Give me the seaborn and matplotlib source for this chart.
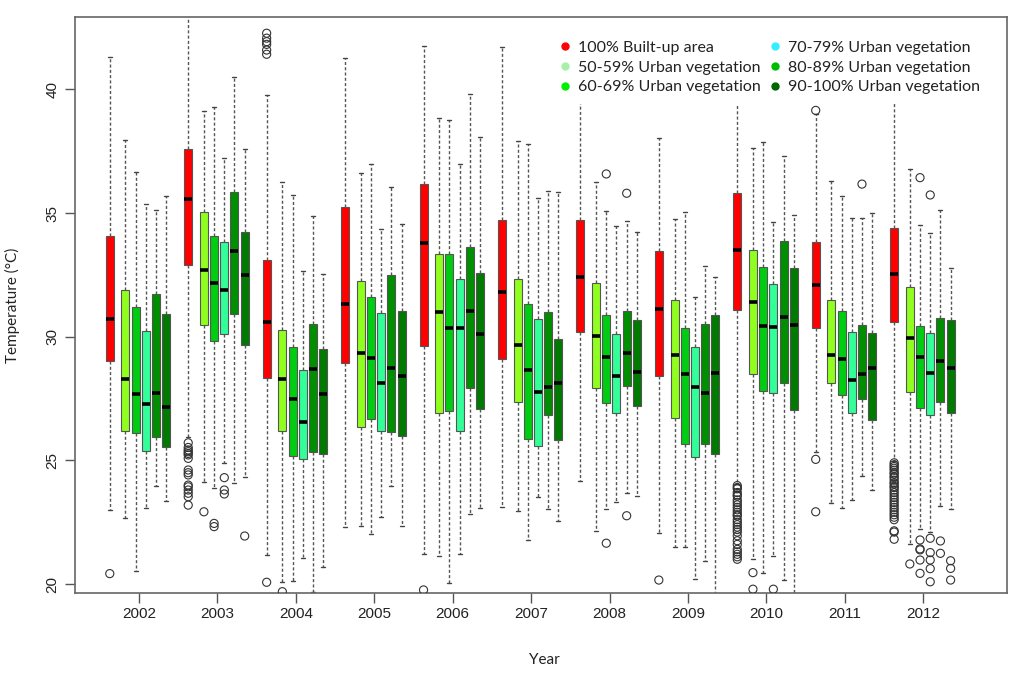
"""
Boxplots of temperature by year and urban vegetation class.
"""

import numpy as np
import pandas as pd
import matplotlib
matplotlib.use("Agg")
import matplotlib.pyplot as plt
from matplotlib.lines import Line2D
import seaborn as sns

YEARS = [2002, 2003, 2004, 2005, 2006, 2007, 2008, 2009, 2010, 2011, 2012]
GROUPS = [
    "100% Built-up area",
    "50-59% Urban vegetation",
    "60-69% Urban vegetation",
    "70-79% Urban vegetation",
    "80-89% Urban vegetation",
    "90-100% Urban vegetation",
]

# (whisker low, Q1, median, Q3, whisker high) per year
built_up = [
    (23.00, 29.02, 30.70, 34.08, 41.31),
    (25.96, 32.90, 35.56, 37.60, 43.30),
    (21.17, 28.33, 30.61, 33.11, 39.77),
    (22.29, 28.95, 31.32, 35.26, 41.28),
    (21.21, 29.64, 33.80, 36.16, 41.75),
    (23.10, 29.08, 31.82, 34.71, 41.70),
    (24.18, 30.18, 32.43, 34.71, 40.60),
    (22.08, 28.41, 31.12, 33.48, 38.02),
    (24.05, 31.08, 33.51, 35.80, 41.00),
    (25.35, 30.36, 32.09, 33.84, 39.00),
    (24.97, 30.61, 32.52, 34.38, 39.90),
]
veg_50_59 = [
    (22.66, 26.19, 28.28, 31.88, 37.94),
    (24.12, 30.49, 32.68, 35.03, 39.14),
    (20.09, 26.17, 28.29, 30.27, 36.27),
    (22.35, 26.34, 29.33, 32.25, 36.61),
    (21.14, 26.93, 31.00, 33.34, 38.83),
    (22.95, 27.35, 29.66, 32.35, 37.93),
    (22.15, 27.94, 30.01, 32.18, 36.26),
    (21.48, 26.70, 29.25, 31.48, 34.76),
    (21.00, 28.48, 31.39, 33.51, 37.62),
    (23.26, 28.14, 29.27, 31.48, 36.30),
    (21.62, 27.78, 29.93, 32.02, 36.77),
]
veg_60_69 = [
    (20.53, 26.12, 27.69, 31.21, 36.67),
    (23.89, 29.83, 32.19, 34.08, 39.29),
    (20.12, 25.18, 27.48, 29.57, 35.73),
    (22.02, 26.66, 29.14, 31.62, 36.98),
    (20.03, 27.00, 30.34, 33.34, 38.76),
    (21.78, 25.88, 28.65, 31.32, 37.78),
    (23.03, 27.30, 29.19, 30.89, 35.07),
    (21.48, 25.65, 28.50, 30.36, 35.03),
    (20.43, 27.80, 30.45, 32.81, 37.89),
    (23.06, 27.64, 29.08, 31.04, 35.70),
    (22.22, 27.13, 29.19, 30.43, 34.52),
]
veg_70_79 = [
    (23.07, 25.38, 27.27, 30.22, 35.38),
    (24.91, 30.10, 31.88, 33.81, 37.24),
    (21.04, 25.04, 26.55, 28.64, 32.67),
    (22.70, 26.20, 28.14, 30.95, 34.34),
    (21.21, 26.20, 30.34, 32.32, 36.97),
    (23.53, 25.59, 27.78, 30.70, 35.60),
    (23.30, 26.90, 28.40, 30.10, 34.48),
    (20.19, 25.12, 27.95, 29.60, 31.62),
    (21.13, 27.71, 30.40, 32.13, 34.62),
    (23.40, 26.93, 28.25, 30.20, 34.79),
    (22.11, 26.85, 28.54, 30.14, 34.21),
]
veg_80_89 = [
    (23.96, 25.94, 27.74, 31.71, 35.12),
    (24.10, 30.91, 33.47, 35.87, 40.51),
    (19.69, 25.34, 28.71, 30.53, 34.88),
    (23.96, 26.15, 28.72, 32.49, 36.04),
    (22.83, 27.91, 31.04, 33.61, 39.80),
    (23.03, 26.83, 27.98, 31.01, 35.89),
    (23.67, 28.01, 29.35, 31.04, 34.69),
    (20.94, 25.65, 27.74, 30.50, 32.87),
    (20.16, 28.14, 30.81, 33.87, 37.32),
    (24.37, 27.47, 28.48, 30.47, 34.79),
    (23.17, 27.35, 29.02, 30.74, 35.13),
]
veg_90_100 = [
    (23.36, 25.55, 27.17, 30.91, 35.69),
    (24.34, 29.65, 32.49, 34.22, 37.57),
    (20.68, 25.26, 27.67, 29.52, 32.54),
    (22.35, 26.00, 28.41, 31.05, 34.56),
    (23.06, 27.09, 30.12, 32.56, 38.09),
    (22.56, 25.82, 28.12, 29.91, 35.84),
    (23.56, 27.21, 28.59, 30.68, 34.25),
    (19.60, 25.24, 28.54, 30.88, 32.40),
    (19.60, 27.04, 30.47, 32.77, 34.92),
    (23.80, 26.63, 28.75, 30.14, 34.99),
    (23.02, 26.90, 28.72, 30.68, 32.77),
]

# outliers per year
out_built_up = {
    2002: [20.42],
    2003: [25.71, 25.52, 25.42, 25.35, 25.28, 25.22, 25.08, 24.61, 24.50,
           24.41, 24.00, 23.93, 23.80, 23.67, 23.53, 23.19],
    2004: [42.27, 42.07, 41.93, 41.82, 41.59, 41.42, 20.07],
    2006: [19.76],
    2009: [20.16],
    2010: [23.98, 23.9, 23.85, 23.7, 23.6, 23.55, 23.4, 23.3, 23.2, 23.1,
           23.0, 22.9, 22.8, 22.75, 22.6, 22.5, 22.4, 22.3, 22.2, 22.1,
           21.95, 21.75, 21.6, 21.4, 21.3, 21.2, 21.1, 21.0],
    2011: [39.15, 25.04, 22.92],
    2012: [24.9, 24.82, 24.75, 24.68, 24.6, 24.5, 24.45, 24.35, 24.3, 24.2,
           24.1, 24.05, 23.95, 23.9, 23.8, 23.7, 23.6, 23.5, 23.4, 23.3,
           23.2, 23.1, 23.0, 22.9, 22.8, 22.7, 22.6, 22.15, 22.1, 21.81],
}
out_50_59 = {2003: [22.92], 2004: [19.69], 2010: [20.46, 19.79], 2012: [20.81]}
out_60_69 = {2003: [22.45, 22.32], 2008: [36.58, 21.65],
             2012: [36.43, 21.78, 21.42, 21.38, 20.97, 20.43]}
out_70_79 = {2003: [24.30, 23.80, 23.64], 2010: [19.79],
             2012: [35.73, 21.85, 21.27, 20.97, 20.62, 20.09]}
out_80_89 = {2008: [35.80, 22.76], 2011: [36.17], 2012: [21.74, 21.24]}
out_90_100 = {2003: [21.94], 2012: [20.94, 20.63, 20.16]}

BOX_COLORS = ["#FF0000", "#90FF20", "#00CC11", "#33FF99", "#008F00", "#007A00"]
LEGEND_COLORS = ["#FF0000", "#A8F0A8", "#00EE00", "#33EEFF", "#00BB00", "#006600"]
OFFSETS = [-0.372, -0.172, -0.042, 0.088, 0.218, 0.348]

stats_all = [built_up, veg_50_59, veg_60_69, veg_70_79, veg_80_89, veg_90_100]
outliers_all = [out_built_up, out_50_59, out_60_69, out_70_79, out_80_89, out_90_100]

# box table: 7 values per box reproduce the five numbers exactly
rows = []
for g, stats in enumerate(stats_all):
    for i, (lo, q1, med, q3, hi) in enumerate(stats):
        pos = round(i + OFFSETS[g], 3)
        for v in (lo, q1, q1, med, q3, q3, hi):
            rows.append({"pos": pos, "temp": v, "group": GROUPS[g]})
df = pd.DataFrame(rows)

orows = []
for g, outs in enumerate(outliers_all):
    for year, vals in outs.items():
        pos = round(YEARS.index(year) + OFFSETS[g], 3)
        for v in vals:
            orows.append({"pos": pos, "temp": v})
odf = pd.DataFrame(orows)

sns.set_style("ticks")
plt.rcParams["font.family"] = ["Liberation Sans", "DejaVu Sans"]

fig = plt.figure(figsize=(10.24, 6.83), dpi=100)
ax = fig.add_axes([0.0732, 0.1322, 0.9099, 0.8425])

dash = (0, (2.2, 1.6))
sns.boxplot(data=df, x="pos", y="temp", hue="group", hue_order=GROUPS,
            palette=dict(zip(GROUPS, BOX_COLORS)), native_scale=True,
            dodge=False, width=0.785, saturation=1, whis=(0, 100),
            showfliers=False, legend=False, ax=ax,
            boxprops=dict(edgecolor="#555555", linewidth=0.8),
            medianprops=dict(color="black", linewidth=2.6, solid_capstyle="butt"),
            whiskerprops=dict(color="#555555", linewidth=1.0, linestyle=dash),
            capprops=dict(color="#444444", linewidth=1.0))

sns.scatterplot(data=odf, x="pos", y="temp", marker="o", s=34,
                facecolors="none", edgecolor="#333333", linewidth=0.8,
                ax=ax, zorder=3)

ax.set_xlim(-0.816, 11.063)
ax.set_ylim(19.648, 42.915)
ax.set_xticks(range(len(YEARS)))
ax.set_xticklabels([str(y) for y in YEARS])
ax.set_yticks([20, 25, 30, 35, 40])
ax.tick_params(axis="both", direction="out", length=7, width=1,
               color="#555555", labelsize=11, labelcolor="#222222")
ax.tick_params(axis="x", pad=3)
ax.tick_params(axis="y", pad=4)
for lab in ax.get_yticklabels():
    lab.set_rotation(90)
    lab.set_va("center")
for sp in ax.spines.values():
    sp.set_color("#666666")
    sp.set_linewidth(1.2)

ax.set_xlabel("Year", fontsize=11, family=["Lato", "DejaVu Sans"], color="#222222")
ax.set_ylabel("Temperature (°C)", fontsize=11, family=["Lato", "DejaVu Sans"],
              color="#222222")
ax.xaxis.set_label_coords(0.504, -0.105)
ax.yaxis.set_label_coords(-0.059, 0.5)

handles = [Line2D([], [], marker="o", linestyle="", markersize=5,
                  markerfacecolor=c, markeredgecolor=c) for c in LEGEND_COLORS]
leg = ax.legend(handles, GROUPS, ncol=2, loc="upper right",
                bbox_to_anchor=(0.99, 0.99), frameon=True, facecolor="white",
                edgecolor="none", framealpha=1, handlelength=0.6,
                handletextpad=0.5, columnspacing=0.6, labelspacing=0.35,
                borderpad=0.6, prop={"family": ["Lato", "DejaVu Sans"], "size": 11.5})
for t in leg.get_texts():
    t.set_color("#222222")
leg.set_zorder(10)

fig.savefig("out.png", dpi=100)
